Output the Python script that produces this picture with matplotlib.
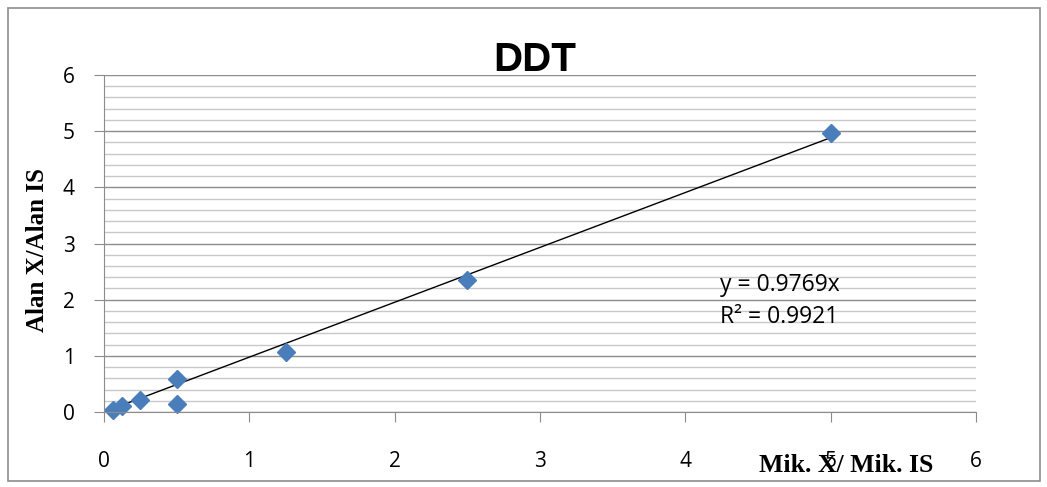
import numpy as np
import matplotlib.pyplot as plt
from matplotlib.patches import Rectangle

# data
mik_ratio = [0.0625, 0.125, 0.25, 0.5, 0.5, 1.25, 2.5, 5.0]
alan_ratio = [0.03, 0.10, 0.21, 0.59, 0.14, 1.07, 2.35, 4.96]
slope = 0.9769
r2 = 0.9921

fig = plt.figure(figsize=(10.47, 4.87), dpi=100)
ax = fig.add_axes([104 / 1047, 1 - 412 / 487, (976 - 104) / 1047, (412 - 75) / 487])

# chart border
fig.patches.append(Rectangle((8 / 1047, 6 / 487), 1032 / 1047, 1 - 14 / 487,
                             transform=fig.transFigure, fill=False,
                             edgecolor="#8c8c8c", linewidth=1.2))

ax.set_xlim(0, 6)
ax.set_ylim(0, 6)
ax.set_yticks(np.arange(0, 6.01, 0.2), minor=True)
ax.set_yticks(range(7))
ax.set_xticks(range(7))
ax.grid(axis="y", which="minor", color="#c8c8c8", linewidth=1)
ax.grid(axis="y", which="major", color="#8c8c8c", linewidth=1)
ax.set_axisbelow(True)
for s in ["top", "right"]:
    ax.spines[s].set_visible(False)
for s in ["left", "bottom"]:
    ax.spines[s].set_color("#8c8c8c")
ax.tick_params(axis="both", which="major", direction="out", length=7,
               color="#8c8c8c", labelsize=15)
ax.tick_params(axis="y", which="minor", length=0)
ax.tick_params(axis="x", pad=21)
ax.tick_params(axis="y", pad=14)
for lab in ax.get_xticklabels() + ax.get_yticklabels():
    lab.set_fontfamily("Open Sans")

# trendline through origin
xs = np.array([min(mik_ratio), max(mik_ratio)])
ax.plot(xs, slope * xs, color="black", linewidth=1)
ax.plot(mik_ratio, alan_ratio, "D", color="#4a7ebb", markersize=9, clip_on=False)

ax.text(4.24, 2.26, f"y = {slope}x", fontsize=16.5, family="Open Sans", va="center")
ax.text(4.24, 1.70, f"R² = {r2}", fontsize=16.5, family="Open Sans", va="center")

fig.text(535 / 1047, 1 - 60 / 487, "DDT", fontsize=29, fontweight="bold",
         family="Liberation Sans", ha="center", va="center")
fig.text(38 / 1047, 1 - 250 / 487, "Alan X/Alan IS", fontsize=18, fontweight="bold",
         family="Liberation Serif", rotation=90, ha="center", va="center")
fig.text(846 / 1047, 1 - 466 / 487, "Mik. X/ Mik. IS", fontsize=18.5, fontweight="bold",
         family="Liberation Serif", ha="center", va="center")

fig.savefig("out.png", dpi=100)
